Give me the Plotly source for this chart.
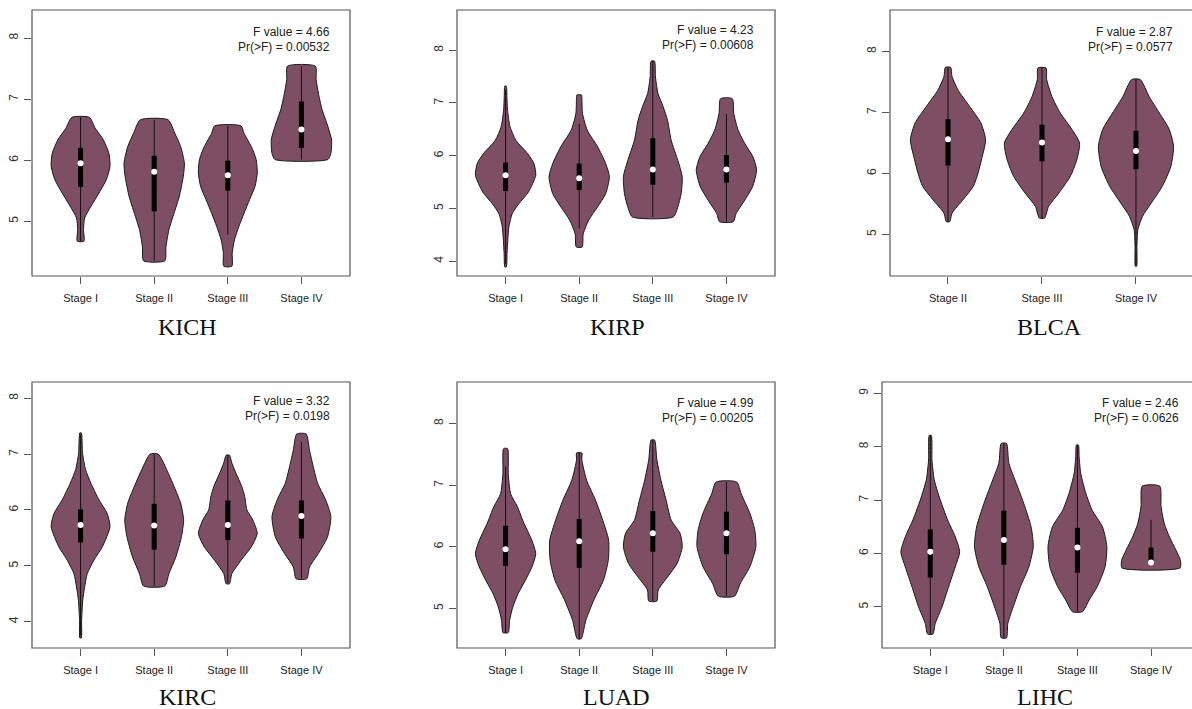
import plotly.graph_objects as go

W, H = 1192, 709
FILL = "#7E4E64"

STAGES4 = ["Stage I", "Stage II", "Stage III", "Stage IV"]
STAGES3 = ["Stage II", "Stage III", "Stage IV"]

# ---------------- data ----------------
# violin profile: expression levels (y) and relative half-widths (density)
KICH_Y = [
    [4.67, 4.86, 5.05, 5.24, 5.46, 5.68, 5.90, 6.11, 6.33, 6.52, 6.70],
    [4.35, 4.58, 4.86, 5.13, 5.40, 5.73, 5.95, 6.22, 6.44, 6.66],
    [4.26, 4.48, 4.69, 4.91, 5.13, 5.35, 5.57, 5.79, 6.01, 6.22, 6.44, 6.56],
    [6.01, 6.11, 6.33, 6.55, 6.83, 7.10, 7.32, 7.54],
]
KICH_W = [
    [0.045, 0.04, 0.055, 0.14, 0.25, 0.35, 0.40, 0.385, 0.31, 0.20, 0.12],
    [0.145, 0.16, 0.20, 0.27, 0.34, 0.395, 0.41, 0.36, 0.28, 0.19],
    [0.055, 0.06, 0.09, 0.15, 0.22, 0.295, 0.37, 0.40, 0.385, 0.32, 0.22, 0.18],
    [0.36, 0.40, 0.41, 0.36, 0.28, 0.23, 0.20, 0.19],
]
KICH_Q1 = [5.56, 5.16, 5.50, 6.20]
KICH_MED = [5.95, 5.81, 5.75, 6.50]
KICH_Q3 = [6.20, 6.07, 5.99, 6.96]
KICH_LO = [4.67, 4.35, 4.78, 6.01]
KICH_HI = [6.70, 6.66, 6.56, 7.54]

KIRP_Y = [
    [3.89, 4.15, 4.40, 4.65, 4.90, 5.09, 5.31, 5.63, 5.85, 6.04, 6.29, 6.55, 6.86, 7.12, 7.32],
    [4.27, 4.52, 4.78, 5.03, 5.28, 5.60, 5.85, 6.17, 6.48, 6.80, 7.12, 7.15],
    [4.84, 5.03, 5.28, 5.60, 5.91, 6.29, 6.67, 6.93, 7.18, 7.49, 7.79],
    [4.75, 4.90, 5.16, 5.41, 5.73, 5.98, 6.23, 6.48, 6.80, 7.08],
]
KIRP_W = [
    [0.01, 0.02, 0.03, 0.045, 0.09, 0.18, 0.31, 0.41, 0.385, 0.30, 0.14, 0.06, 0.027, 0.018, 0.01],
    [0.04, 0.055, 0.13, 0.25, 0.36, 0.41, 0.36, 0.25, 0.11, 0.045, 0.036, 0.033],
    [0.28, 0.34, 0.385, 0.40, 0.34, 0.25, 0.20, 0.14, 0.07, 0.036, 0.023],
    [0.095, 0.13, 0.25, 0.355, 0.41, 0.36, 0.25, 0.16, 0.10, 0.08],
]
KIRP_Q1 = [5.33, 5.35, 5.45, 5.49]
KIRP_MED = [5.63, 5.57, 5.74, 5.74]
KIRP_Q3 = [5.87, 5.85, 6.33, 6.01]
KIRP_LO = [3.95, 4.62, 4.84, 4.75]
KIRP_HI = [7.25, 6.60, 7.79, 6.79]

BLCA_Y = [
    [5.21, 5.35, 5.57, 5.79, 6.01, 6.22, 6.55, 6.83, 7.10, 7.37, 7.59, 7.74],
    [5.27, 5.46, 5.68, 5.95, 6.22, 6.50, 6.72, 6.99, 7.26, 7.54, 7.73],
    [4.48, 4.80, 5.08, 5.30, 5.51, 5.79, 6.11, 6.44, 6.72, 6.99, 7.26, 7.54],
]
BLCA_W = [
    [0.018, 0.043, 0.16, 0.27, 0.32, 0.355, 0.40, 0.35, 0.23, 0.106, 0.043, 0.028],
    [0.028, 0.07, 0.18, 0.30, 0.37, 0.40, 0.32, 0.195, 0.106, 0.05, 0.043],
    [0.007, 0.01, 0.02, 0.07, 0.16, 0.28, 0.37, 0.40, 0.355, 0.25, 0.14, 0.046],
]
BLCA_Q1 = [6.13, 6.20, 6.07]
BLCA_MED = [6.56, 6.51, 6.37]
BLCA_Q3 = [6.89, 6.80, 6.70]
BLCA_LO = [5.21, 5.27, 4.50]
BLCA_HI = [7.74, 7.73, 7.54]

KIRC_Y = [
    [3.71, 4.03, 4.39, 4.62, 4.86, 5.10, 5.34, 5.70, 5.94, 6.18, 6.48, 6.72, 7.01, 7.38],
    [4.64, 4.86, 5.16, 5.52, 5.82, 6.12, 6.42, 6.72, 7.00],
    [4.68, 4.86, 5.10, 5.34, 5.58, 5.82, 6.00, 6.24, 6.42, 6.66, 6.84, 6.98],
    [4.77, 4.98, 5.22, 5.52, 5.88, 6.18, 6.48, 6.78, 7.07, 7.36],
]
KIRC_W = [
    [0.01, 0.014, 0.03, 0.055, 0.09, 0.18, 0.295, 0.40, 0.36, 0.25, 0.14, 0.068, 0.027, 0.01],
    [0.145, 0.20, 0.295, 0.37, 0.40, 0.36, 0.27, 0.17, 0.055],
    [0.023, 0.055, 0.18, 0.32, 0.40, 0.34, 0.26, 0.23, 0.19, 0.11, 0.055, 0.023],
    [0.073, 0.11, 0.23, 0.355, 0.40, 0.33, 0.22, 0.16, 0.11, 0.064],
]
KIRC_Q1 = [5.42, 5.29, 5.46, 5.49]
KIRC_MED = [5.73, 5.72, 5.73, 5.89]
KIRC_Q3 = [6.01, 6.11, 6.17, 6.17]
KIRC_LO = [3.75, 4.64, 4.70, 4.77]
KIRC_HI = [7.35, 7.00, 6.98, 7.22]

LUAD_Y = [
    [4.61, 4.81, 5.03, 5.24, 5.46, 5.68, 5.89, 6.11, 6.38, 6.65, 6.86, 7.19, 7.59],
    [4.51, 4.81, 5.14, 5.46, 5.78, 6.11, 6.43, 6.76, 7.08, 7.41, 7.52],
    [5.12, 5.30, 5.51, 5.73, 6.00, 6.22, 6.43, 6.76, 7.08, 7.41, 7.73],
    [5.20, 5.41, 5.68, 6.00, 6.27, 6.54, 6.86, 7.05],
]
LUAD_W = [
    [0.036, 0.055, 0.10, 0.17, 0.27, 0.36, 0.41, 0.355, 0.25, 0.16, 0.068, 0.036, 0.027],
    [0.027, 0.09, 0.20, 0.33, 0.395, 0.40, 0.32, 0.22, 0.10, 0.036, 0.036],
    [0.055, 0.073, 0.20, 0.33, 0.40, 0.37, 0.25, 0.18, 0.11, 0.055, 0.023],
    [0.11, 0.19, 0.32, 0.40, 0.385, 0.32, 0.20, 0.14],
]
LUAD_Q1 = [5.69, 5.66, 5.92, 5.88]
LUAD_MED = [5.96, 6.09, 6.22, 6.22]
LUAD_Q3 = [6.34, 6.45, 6.58, 6.57]
LUAD_LO = [4.61, 4.51, 5.12, 5.20]
LUAD_HI = [7.30, 7.52, 7.73, 7.05]

LIHC_Y = [
    [4.49, 4.69, 5.00, 5.38, 5.75, 6.03, 6.31, 6.63, 7.00, 7.38, 7.75, 8.21],
    [4.42, 4.69, 5.00, 5.38, 5.75, 6.13, 6.50, 6.94, 7.31, 7.69, 8.06],
    [4.91, 5.13, 5.38, 5.75, 6.13, 6.50, 6.81, 7.13, 7.50, 7.81, 8.03],
    [5.73, 5.87, 6.06, 6.31, 6.56, 6.88, 7.26],
]
LIHC_W = [
    [0.036, 0.068, 0.16, 0.25, 0.34, 0.40, 0.34, 0.235, 0.136, 0.054, 0.023, 0.014],
    [0.036, 0.054, 0.127, 0.226, 0.34, 0.40, 0.37, 0.27, 0.17, 0.068, 0.036],
    [0.068, 0.16, 0.27, 0.375, 0.40, 0.34, 0.20, 0.113, 0.045, 0.023, 0.014],
    [0.395, 0.40, 0.34, 0.25, 0.18, 0.136, 0.12],
]
LIHC_Q1 = [5.55, 5.79, 5.64, 5.83]
LIHC_MED = [6.03, 6.25, 6.11, 5.83]
LIHC_Q3 = [6.45, 6.80, 6.48, 6.11]
LIHC_LO = [4.49, 4.42, 4.91, 5.83]
LIHC_HI = [8.21, 8.06, 8.03, 6.63]

F_VALUES = ["4.66", "4.23", "2.87", "3.32", "4.99", "2.46"]
P_VALUES = ["0.00532", "0.00608", "0.0577", "0.0198", "0.00205", "0.0626"]
NAMES = ["KICH", "KIRP", "BLCA", "KIRC", "LUAD", "LIHC"]

DATA = [
    (STAGES4, KICH_Y, KICH_W, KICH_Q1, KICH_MED, KICH_Q3, KICH_LO, KICH_HI),
    (STAGES4, KIRP_Y, KIRP_W, KIRP_Q1, KIRP_MED, KIRP_Q3, KIRP_LO, KIRP_HI),
    (STAGES3, BLCA_Y, BLCA_W, BLCA_Q1, BLCA_MED, BLCA_Q3, BLCA_LO, BLCA_HI),
    (STAGES4, KIRC_Y, KIRC_W, KIRC_Q1, KIRC_MED, KIRC_Q3, KIRC_LO, KIRC_HI),
    (STAGES4, LUAD_Y, LUAD_W, LUAD_Q1, LUAD_MED, LUAD_Q3, LUAD_LO, LUAD_HI),
    (STAGES4, LIHC_Y, LIHC_W, LIHC_Q1, LIHC_MED, LIHC_Q3, LIHC_LO, LIHC_HI),
]

# ---------------- layout (pixels) ----------------
# plot box: left, right (visible), true right (may be clipped), top, bottom
BOXES = [
    (32, 350, 350, 10, 276),
    (457, 775, 775, 10, 276),
    (890, 1192, 1208, 10, 276),
    (32, 350, 350, 382, 648),
    (457, 775, 775, 382, 648),
    (882, 1192, 1208, 382, 648),
]
XRANGES = [
    [0.34, 4.66], [0.34, 4.66], [0.383, 3.596],
    [0.34, 4.66], [0.34, 4.66], [0.344, 4.557],
]
YRANGES = [
    [4.10, 8.46], [3.72, 8.76], [4.32, 8.68],
    [3.53, 8.29], [4.36, 8.67], [4.23, 9.21],
]
ANNOT_X = [332, 756, 1175, 332, 756, 1181]
ANNOT_Y = [32, 30, 32, 401, 403, 403]
TITLE_X = [187, 618, 1049, 187, 616, 1045]
TITLE_Y = [327, 327, 327, 697, 697, 697]

fig = go.Figure()
shapes = []
annotations = []

for i, (cats, ys, ws, q1, med, q3, lo, hi) in enumerate(DATA):
    ax = "" if i == 0 else str(i + 1)
    xref, yref = "x" + ax, "y" + ax
    for k in range(len(cats)):
        c = k + 1
        y = ys[k]
        w = ws[k]
        px = [c + v for v in w] + [c - v for v in w[::-1]] + [c + w[0]]
        py = list(y) + list(y[::-1]) + [y[0]]
        fig.add_trace(go.Scatter(
            x=px, y=py, mode="lines", fill="toself", fillcolor=FILL,
            line=dict(color="#1a1a1a", width=1, shape="spline", smoothing=0.6),
            xaxis=xref, yaxis=yref, hoverinfo="skip", showlegend=False))
        fig.add_trace(go.Scatter(
            x=[c, c], y=[lo[k], hi[k]], mode="lines",
            line=dict(color="#111111", width=1),
            xaxis=xref, yaxis=yref, hoverinfo="skip", showlegend=False))
        fig.add_trace(go.Scatter(
            x=[c, c], y=[q1[k], q3[k]], mode="lines",
            line=dict(color="#000000", width=5),
            xaxis=xref, yaxis=yref, hoverinfo="skip", showlegend=False))
        fig.add_trace(go.Scatter(
            x=[c], y=[med[k]], mode="markers",
            marker=dict(color="white", size=6, line=dict(width=0)),
            xaxis=xref, yaxis=yref, hoverinfo="skip", showlegend=False))

    l, r, rtrue, t, b = BOXES[i]
    xd = [l / W, r / W]
    yd = [1 - b / H, 1 - t / H]
    common = dict(showgrid=False, zeroline=False, showline=False, automargin=False,
                  ticks="outside", ticklen=7, tickcolor="#555555", tickwidth=1)
    fig.layout["xaxis" + ax] = dict(
        domain=xd, range=XRANGES[i], anchor=yref,
        tickvals=list(range(1, len(cats) + 1)), ticktext=cats,
        ticklabelstandoff=5,
        tickfont=dict(family="Liberation Sans, Arial", size=11, color="#222222"),
        **common)
    fig.layout["yaxis" + ax] = dict(
        domain=yd, range=YRANGES[i], anchor=xref, dtick=1, tick0=0,
        tickangle=-90, ticklabelstandoff=1,
        tickfont=dict(family="Liberation Sans, Arial", size=12, color="#333333"),
        **common)
    shapes.append(dict(type="rect", xref="paper", yref="paper",
                       x0=l / W, x1=rtrue / W, y0=1 - b / H, y1=1 - t / H,
                       line=dict(color="#555555", width=1.2), layer="above"))
    annotations.append(dict(
        xref="paper", yref="paper", x=ANNOT_X[i] / W, y=1 - ANNOT_Y[i] / H,
        xanchor="right", yanchor="middle", align="right", showarrow=False,
        text="F value = " + F_VALUES[i],
        font=dict(family="Liberation Sans, Arial", size=12, color="#222222")))
    annotations.append(dict(
        xref="paper", yref="paper", x=ANNOT_X[i] / W, y=1 - (ANNOT_Y[i] + 15) / H,
        xanchor="right", yanchor="middle", align="right", showarrow=False,
        text="Pr(>F) = " + P_VALUES[i],
        font=dict(family="Liberation Sans, Arial", size=12, color="#222222")))
    annotations.append(dict(
        xref="paper", yref="paper", x=TITLE_X[i] / W, y=1 - TITLE_Y[i] / H,
        xanchor="center", yanchor="middle", showarrow=False,
        text=NAMES[i],
        font=dict(family="Liberation Serif, Times New Roman", size=24, color="#111111")))

fig.update_layout(
    width=W, height=H, margin=dict(l=0, r=0, t=0, b=0),
    paper_bgcolor="white", plot_bgcolor="white",
    shapes=shapes, annotations=annotations, showlegend=False)

fig.write_html("out.html")
